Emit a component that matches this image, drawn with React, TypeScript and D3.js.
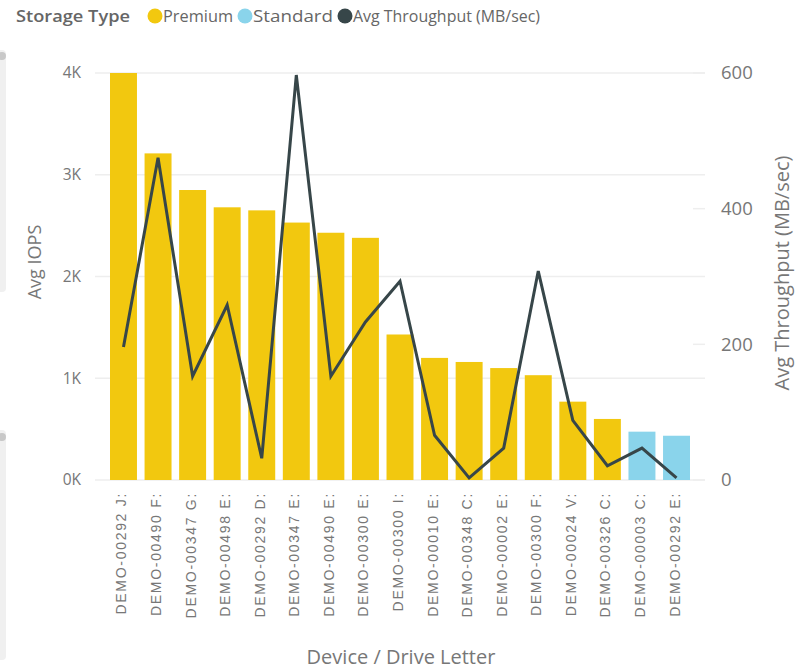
import React, { useEffect, useRef } from 'react';
import * as d3 from 'd3';

const devices = [
  'DEMO-00292 J:', 'DEMO-00490 F:', 'DEMO-00347 G:', 'DEMO-00498 E:', 'DEMO-00292 D:',
  'DEMO-00347 E:', 'DEMO-00490 E:', 'DEMO-00300 E:', 'DEMO-00300 I:', 'DEMO-00010 E:',
  'DEMO-00348 C:', 'DEMO-00002 E:', 'DEMO-00300 F:', 'DEMO-00024 V:', 'DEMO-00326 C:',
  'DEMO-00003 C:', 'DEMO-00292 E:',
];
const storageTypes = [
  'Premium', 'Premium', 'Premium', 'Premium', 'Premium', 'Premium', 'Premium', 'Premium',
  'Premium', 'Premium', 'Premium', 'Premium', 'Premium', 'Premium', 'Premium',
  'Standard', 'Standard',
];
const avgIops = [4000, 3210, 2850, 2680, 2650, 2530, 2430, 2380, 1430, 1200, 1160, 1100, 1030, 770, 600, 475, 435];
const avgThroughput = [196, 475, 153, 258, 32, 597, 153, 233, 293, 66, 3, 47, 308, 88, 21, 47, 3];

const iopsTicks = [0, 1000, 2000, 3000, 4000];
const throughputTicks = [0, 200, 400, 600];

const colors: Record<string, string> = { Premium: '#F2C80F', Standard: '#8AD4EB' };
const lineColor = '#374649';
const textColor = '#777777';

const W = 805;
const H = 671;

const App: React.FC = () => {
  const svgRef = useRef<SVGSVGElement>(null);

  useEffect(() => {
    if (!svgRef.current) return;
    const svg = d3.select(svgRef.current);
    svg.selectAll('*').remove();

    const font = "'Open Sans', 'Noto Sans', sans-serif";
    const x = d3.scaleBand<string>().domain(devices).range([106.2, 693.8]).paddingInner(0.22).paddingOuter(0.11);
    const yL = d3.scaleLinear().domain([0, 4000]).range([480, 73]);
    const yR = d3.scaleLinear().domain([0, 600]).range([480, 73]);

    // side panel decorations
    svg.append('rect').attr('x', -4).attr('y', 50).attr('width', 10).attr('height', 242)
      .attr('rx', 4).attr('fill', '#f0f0f0');
    svg.append('rect').attr('x', -4).attr('y', 430).attr('width', 10).attr('height', 230)
      .attr('rx', 4).attr('fill', '#f0f0f0');
    svg.append('circle').attr('cx', 2).attr('cy', 56).attr('r', 4).attr('fill', '#c8c8c8');
    svg.append('circle').attr('cx', 2).attr('cy', 437).attr('r', 4).attr('fill', '#c8c8c8');

    // gridlines
    svg.append('g').selectAll('line').data(iopsTicks).join('line')
      .attr('x1', 95).attr('x2', 705)
      .attr('y1', d => yL(d)).attr('y2', d => yL(d))
      .attr('stroke', '#eeeeee').attr('stroke-width', 1.5);
    svg.append('g').selectAll('line').data(throughputTicks).join('line')
      .attr('x1', 693).attr('x2', 705)
      .attr('y1', d => yR(d)).attr('y2', d => yR(d))
      .attr('stroke', '#eeeeee').attr('stroke-width', 1.5);

    // left ticks
    svg.append('g').selectAll('text').data(iopsTicks).join('text')
      .attr('x', 81).attr('y', d => yL(d)).attr('dy', '0.35em')
      .attr('text-anchor', 'end').attr('font-family', font).attr('font-size', 15.5)
      .attr('fill', textColor).text(d => `${d / 1000}K`);
    // right ticks
    svg.append('g').selectAll('text').data(throughputTicks).join('text')
      .attr('x', 721).attr('y', d => yR(d)).attr('dy', '0.35em')
      .attr('text-anchor', 'start').attr('font-family', font).attr('font-size', 18.5)
      .attr('fill', textColor).text(d => `${d}`);

    // bars
    svg.append('g').selectAll('rect').data(devices).join('rect')
      .attr('x', d => x(d)!)
      .attr('width', x.bandwidth())
      .attr('y', (d, i) => yL(avgIops[i]))
      .attr('height', (d, i) => yL(0) - yL(avgIops[i]))
      .attr('fill', (d, i) => colors[storageTypes[i]]);

    // line
    const line = d3.line<number>()
      .x((d, i) => x(devices[i])! + x.bandwidth() / 2)
      .y(d => yR(d));
    svg.append('path').attr('d', line(avgThroughput) || '')
      .attr('fill', 'none').attr('stroke', lineColor).attr('stroke-width', 3)
      .attr('stroke-linejoin', 'miter');

    // x labels
    svg.append('g').selectAll('text').data(devices).join('text')
      .attr('transform', d => `translate(${x(d)! + x.bandwidth() / 2 + 3},${492}) rotate(-90)`)
      .attr('text-anchor', 'end').attr('font-family', "'Liberation Sans', Arial, sans-serif")
      .attr('font-size', 14).attr('letter-spacing', 1.7)
      .attr('fill', textColor).text(d => d);

    // axis titles
    svg.append('text').attr('transform', 'translate(41,262) rotate(-90)')
      .attr('text-anchor', 'middle').attr('font-family', font).attr('font-size', 18)
      .attr('fill', textColor).text('Avg IOPS');
    svg.append('text').attr('transform', 'translate(789,273) rotate(-90)')
      .attr('text-anchor', 'middle').attr('font-family', font).attr('font-size', 20)
      .attr('fill', textColor).text('Avg Throughput (MB/sec)');
    svg.append('text').attr('x', 401).attr('y', 664)
      .attr('text-anchor', 'middle').attr('font-family', font).attr('font-size', 20)
      .attr('fill', textColor).text('Device / Drive Letter');

    // legend
    const lg = svg.append('g').attr('font-family', font).attr('font-size', 15.5);
    lg.append('text').attr('x', 16).attr('y', 22).attr('font-weight', 600)
      .attr('fill', '#666').attr('textLength', 114).attr('lengthAdjust', 'spacingAndGlyphs')
      .text('Storage Type');
    const items = [
      { label: 'Premium', color: colors.Premium, cx: 155, w: 70 },
      { label: 'Standard', color: colors.Standard, cx: 245, w: 80 },
      { label: 'Avg Throughput (MB/sec)', color: lineColor, cx: 345, w: 187 },
    ];
    items.forEach(it => {
      lg.append('circle').attr('cx', it.cx).attr('cy', 16).attr('r', 7.5).attr('fill', it.color);
      lg.append('text').attr('x', it.cx + 8).attr('y', 22).attr('fill', '#666')
        .attr('textLength', it.w).attr('lengthAdjust', 'spacingAndGlyphs').text(it.label);
    });
  }, []);

  return (
    <svg
      ref={svgRef}
      width={W}
      height={H}
      style={{ position: 'absolute', left: 0, top: 0, background: '#fff' }}
    />
  );
};

export default App;
